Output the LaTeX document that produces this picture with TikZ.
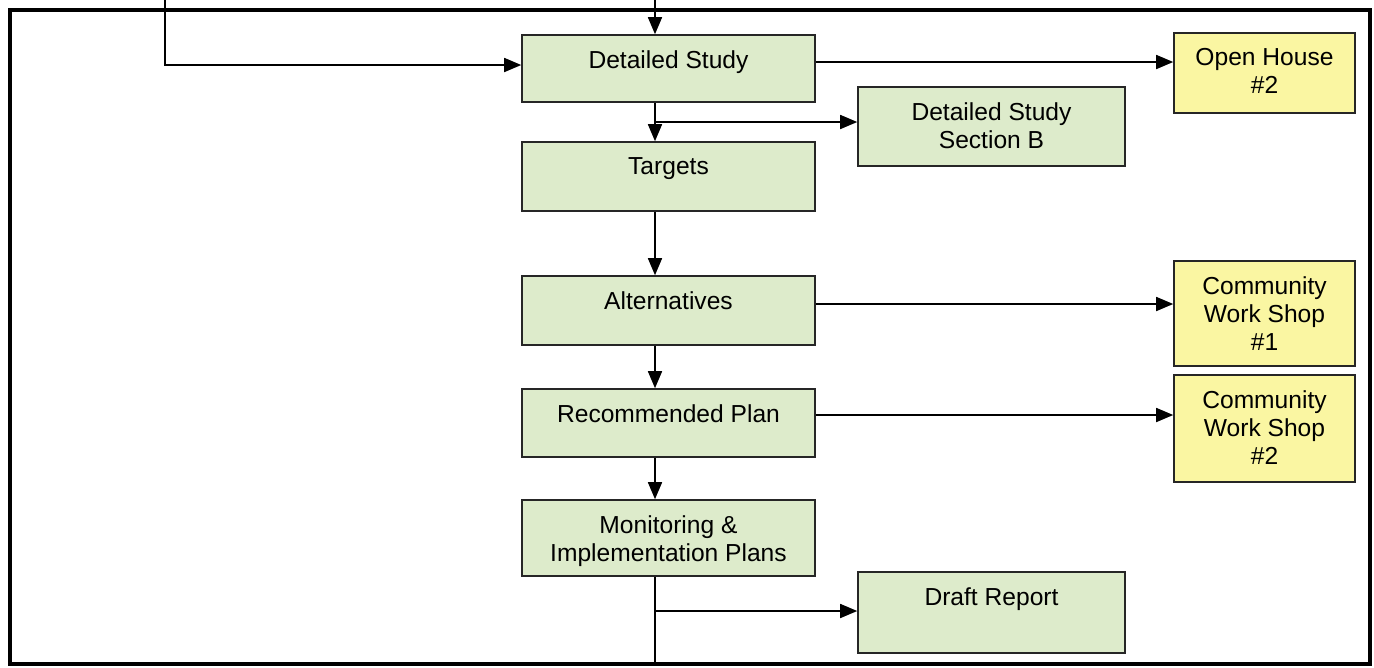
\documentclass[tikz,border=0pt]{standalone}
\usepackage{fontspec}
\setmainfont{Liberation Sans}
\usetikzlibrary{arrows.meta}
\definecolor{gfill}{HTML}{DDEBCB}
\definecolor{yfill}{HTML}{FAF6A2}
\begin{document}
\begin{tikzpicture}[x=0.02cm,y=-0.02cm,
  box/.style={draw=black!85, line width=0.9pt, rectangle, inner sep=0pt},
  gbox/.style={box, fill=gfill},
  ybox/.style={box, fill=yfill},
  lbl/.style={anchor=north, inner sep=0pt, align=center, font=\fontsize{14}{16}\selectfont},
  conn/.style={line width=0.9pt, -{Triangle[length=0.34cm,width=0.28cm]}},
  ln/.style={line width=0.9pt}]
\useasboundingbox[fill=white] (0,0) rectangle (1374,667);
% frame
\draw[line width=2.3pt] (10,10) rectangle (1370,664);
% boxes
\node[gbox, minimum width=5.86cm, minimum height=1.34cm] (ds)  at (668.5,68.5) {};
\node[gbox, minimum width=5.86cm, minimum height=1.38cm] (tg)  at (668.5,176.5) {};
\node[gbox, minimum width=5.86cm, minimum height=1.38cm] (alt) at (668.5,310.5) {};
\node[gbox, minimum width=5.86cm, minimum height=1.36cm] (rp)  at (668.5,423) {};
\node[gbox, minimum width=5.86cm, minimum height=1.52cm] (mon) at (668.5,538) {};
\node[gbox, minimum width=5.34cm, minimum height=1.58cm] (secb) at (991.5,126.5) {};
\node[gbox, minimum width=5.34cm, minimum height=1.62cm] (dr)  at (991.5,612.5) {};
\node[ybox, minimum width=3.62cm, minimum height=1.60cm] (oh)  at (1264.5,73) {};
\node[ybox, minimum width=3.62cm, minimum height=2.10cm] (cw1) at (1264.5,313.5) {};
\node[ybox, minimum width=3.62cm, minimum height=2.14cm] (cw2) at (1264.5,428.5) {};
% labels
\node[lbl] (dsl)  at ([yshift=-0.32cm]ds.north)  {Detailed Study};
\node[lbl] (tgl)  at ([yshift=-0.32cm]tg.north)  {Targets};
\node[lbl] (altl) at ([yshift=-0.32cm]alt.north) {Alternatives};
\node[lbl] (rpl)  at ([yshift=-0.32cm]rp.north)  {Recommended Plan};
\node[lbl] (monl) at ([yshift=-0.32cm]mon.north) {Monitoring \&\\Implementation Plans};
\node[lbl] (secbl) at ([yshift=-0.32cm]secb.north) {Detailed Study\\Section B};
\node[lbl] (drl)  at ([yshift=-0.32cm]dr.north)  {Draft Report};
\node[lbl] (ohl)  at ([yshift=-0.32cm]oh.north)  {Open House\\\#2};
\node[lbl] (cw1l) at ([yshift=-0.32cm]cw1.north) {Community\\Work Shop\\\#1};
\node[lbl] (cw2l) at ([yshift=-0.32cm]cw2.north) {Community\\Work Shop\\\#2};
% connectors
\coordinate (t1) at (165,0);
\coordinate (t2) at (655,0);
\coordinate (b1) at (655,122);
\coordinate (b2) at (655,611);
\coordinate (bot) at (655,664);
\draw[conn] (t1) |- (ds.west |- 0,65);
\draw[conn] (t2) -- (ds.north -| t2);
\draw[conn] (ds.east |- 0,62) -- (oh.west |- 0,62);
\draw[conn] (ds.south -| t2) -- (tg.north -| t2);
\draw[conn] (b1) -- (secb.west |- b1);
\draw[conn] (tg.south -| t2) -- (alt.north -| t2);
\draw[conn] (alt.east |- 0,304) -- (cw1.west |- 0,304);
\draw[conn] (alt.south -| t2) -- (rp.north -| t2);
\draw[conn] (rp.east |- 0,415) -- (cw2.west |- 0,415);
\draw[conn] (rp.south -| t2) -- (mon.north -| t2);
\draw[ln] (mon.south -| t2) -- (bot);
\draw[conn] (b2) -- (dr.west |- b2);
\end{tikzpicture}
\end{document}
